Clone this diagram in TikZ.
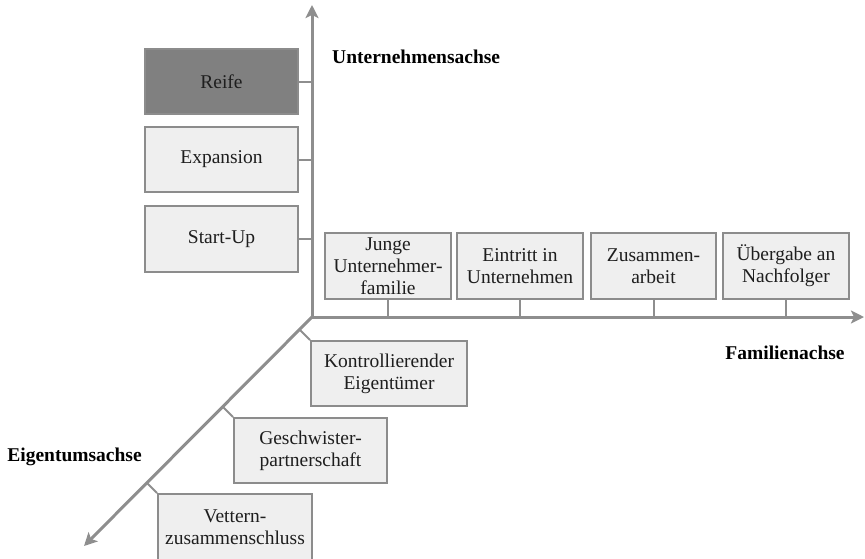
\documentclass[tikz,border=0pt]{standalone}
\usepackage{fontspec}
\setmainfont{Liberation Serif}
\usetikzlibrary{arrows.meta,calc}
\definecolor{axisgray}{HTML}{8E8E8E}
\definecolor{boxfill}{HTML}{EFEFEF}
\definecolor{boxline}{HTML}{8C8C8C}
\definecolor{darkfill}{HTML}{808080}
\definecolor{txt}{HTML}{1E1E1E}
\begin{document}
\begin{tikzpicture}[x=1pt,y=-1pt,
  axis/.style={draw=axisgray,line width=3pt,-{Stealth[length=13pt,width=13pt,inset=3pt]}},
  tickline/.style={draw=axisgray,line width=2pt},
  stagebox/.style={draw=boxline,line width=2pt,fill=boxfill,inner sep=0pt,align=center,
    font=\fontsize{19.5}{22}\selectfont,text=txt},
  axlabel/.style={font=\fontsize{19.5}{22}\selectfont\bfseries,text=black,inner sep=0pt}]
\useasboundingbox (0,0) rectangle (865,558);

% axes
\coordinate (o) at (312,317);
\coordinate (ytip) at (312,5);
\coordinate (xtip) at (864,317);
\coordinate (ztip) at (84,546);
\draw[axis] (o) -- (ytip);
\draw[axis] (o) -- (xtip);
\draw[axis] (o) -- (ztip);

% company axis boxes
\node[stagebox,fill=darkfill,minimum width=153,minimum height=65] (reife) at (221.5,81.5) {Reife};
\node[stagebox,minimum width=153,minimum height=65] (expansion) at (221.5,159.5) {Expansion};
\node[stagebox,minimum width=153,minimum height=66] (startup) at (221.5,239) {Start-Up};
\draw[tickline] (reife.east) -- (reife.east -| o);
\draw[tickline] (expansion.east) -- (expansion.east -| o);
\draw[tickline] (startup.east) -- (startup.east -| o);

% family axis boxes
\node[stagebox,minimum width=126,minimum height=66] (junge) at (388,266) {Junge\\Unternehmer-\\familie};
\node[stagebox,minimum width=126,minimum height=66] (eintritt) at (520,266) {Eintritt in\\Unternehmen};
\node[stagebox,minimum width=125,minimum height=66] (zusammen) at (653.5,266) {Zusammen-\\arbeit};
\node[stagebox,minimum width=126,minimum height=66] (uebergabe) at (786,266) {Übergabe an\\Nachfolger};
\draw[tickline] (junge.south) -- (junge.south |- o);
\draw[tickline] (eintritt.south) -- (eintritt.south |- o);
\draw[tickline] (zusammen.south) -- (zusammen.south |- o);
\draw[tickline] (uebergabe.south) -- (uebergabe.south |- o);

% ownership axis boxes
\node[stagebox,minimum width=156,minimum height=65] (kontroll) at (389,373.5) {Kontrollierender\\Eigentümer};
\node[stagebox,minimum width=153,minimum height=65] (geschw) at (310.5,450.5) {Geschwister-\\partnerschaft};
\node[stagebox,minimum width=154,minimum height=67] (vettern) at (235,527.5) {Vettern-\\zusammenschluss};
\coordinate (kz) at ($(kontroll.north west)+(-10.5,-10.5)$);
\coordinate (gz) at ($(geschw.north west)+(-10.5,-10.5)$);
\coordinate (vz) at ($(vettern.north west)+(-10.5,-10.5)$);
\draw[tickline] (kontroll.north west) -- (kz);
\draw[tickline] (geschw.north west) -- (gz);
\draw[tickline] (vettern.north west) -- (vz);

% axis labels
\node[axlabel,anchor=west] (ulabel) at (332,57) {Unternehmensachse};
\node[axlabel] (flabel) at (785,353) {Familienachse};
\node[axlabel] (elabel) at (74.5,457) {Eigentumsachse};
\end{tikzpicture}
\end{document}
